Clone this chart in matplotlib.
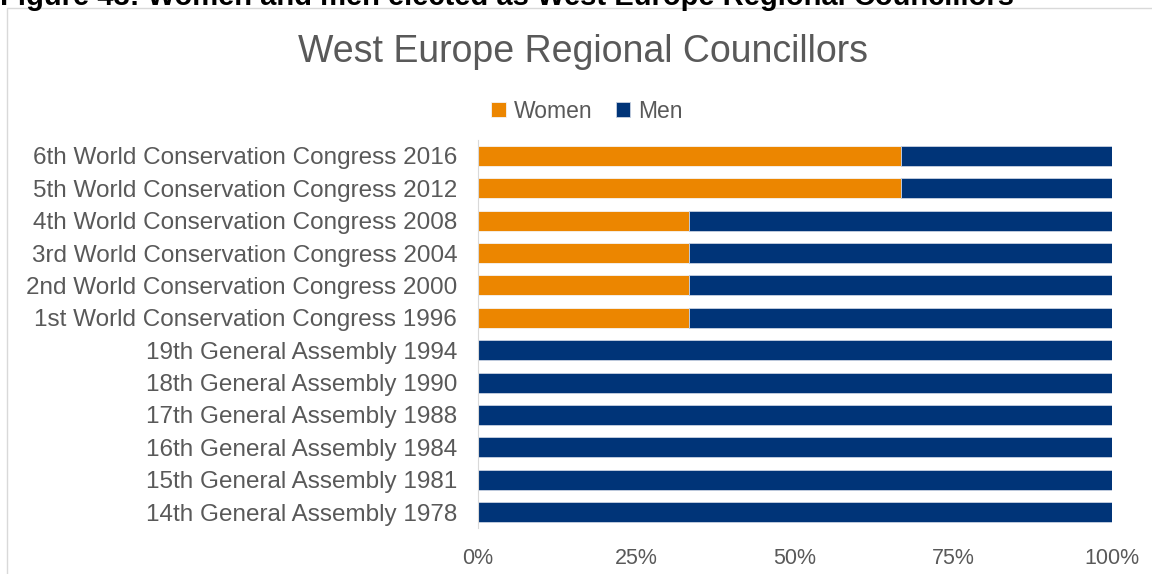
import matplotlib.pyplot as plt
import matplotlib.patches as mpatches

plt.rcParams['font.family'] = ['Liberation Sans', 'DejaVu Sans']

kategorier = [
    "14th General Assembly 1978",
    "15th General Assembly 1981",
    "16th General Assembly 1984",
    "17th General Assembly 1988",
    "18th General Assembly 1990",
    "19th General Assembly 1994",
    "1st World Conservation Congress 1996",
    "2nd World Conservation Congress 2000",
    "3rd World Conservation Congress 2004",
    "4th World Conservation Congress 2008",
    "5th World Conservation Congress 2012",
    "6th World Conservation Congress 2016",
]
kvinner = [0, 0, 0, 0, 0, 0, 33.3, 33.3, 33.3, 33.3, 66.7, 66.7]
menn = [100, 100, 100, 100, 100, 100, 66.7, 66.7, 66.7, 66.7, 33.3, 33.3]
xticks = [0, 25, 50, 75, 100]

oransje = "#EC8600"
bla = "#003478"
gra = "#595959"

fig = plt.figure(figsize=(11.52, 5.74), dpi=100)
ax = fig.add_axes([478 / 1152, 1 - 528.2 / 574, 634 / 1152, 388.4 / 574])

y = range(len(kategorier))
ax.barh(y, kvinner, height=0.62, color=oransje, edgecolor="#F4F4F4", linewidth=0.6, label="Women")
ax.barh(y, menn, left=kvinner, height=0.62, color=bla, edgecolor="#C8D2E2", linewidth=0.6, label="Men")

ax.set_xlim(0, 100)
ax.set_ylim(-0.5, len(kategorier) - 0.5)
ax.set_yticks(list(y))
ax.set_yticklabels(kategorier, fontsize=17.5, color=gra)
ax.set_xticks(xticks)
ax.set_xticklabels([f"{t}%" for t in xticks], fontsize=15.5, color=gra)
ax.tick_params(axis="both", length=0)
ax.tick_params(axis="x", pad=14)
ax.tick_params(axis="y", pad=15)
for s in ["top", "right", "bottom"]:
    ax.spines[s].set_visible(False)
ax.spines["left"].set_color("#D9D9D9")

fig.text(583 / 1152, 1 - 52 / 574, "West Europe Regional Councillors", fontsize=27,
         color=gra, ha="center", va="center")
fig.legend(loc="center", bbox_to_anchor=(587 / 1152, 1 - 111 / 574), ncol=2, frameon=False,
           fontsize=16.5, labelcolor=gra, handlelength=0.65, handleheight=0.65,
           handletextpad=0.35, columnspacing=1.0)

# Rahmen um das Diagramm und abgeschnittene Bildunterschrift
fig.patches.append(mpatches.Rectangle((7 / 1152, -0.1), 1.2, 1 - 8 / 574 + 0.1,
                                      transform=fig.transFigure, fill=False,
                                      edgecolor="#D9D9D9", linewidth=1))
fig.text(0, 1 - 5 / 574, "Figure 43: Women and men elected as West Europe Regional Councillors",
         fontsize=21, fontweight="bold", color="black", ha="left", va="baseline")

fig.savefig("out.png", dpi=100)
